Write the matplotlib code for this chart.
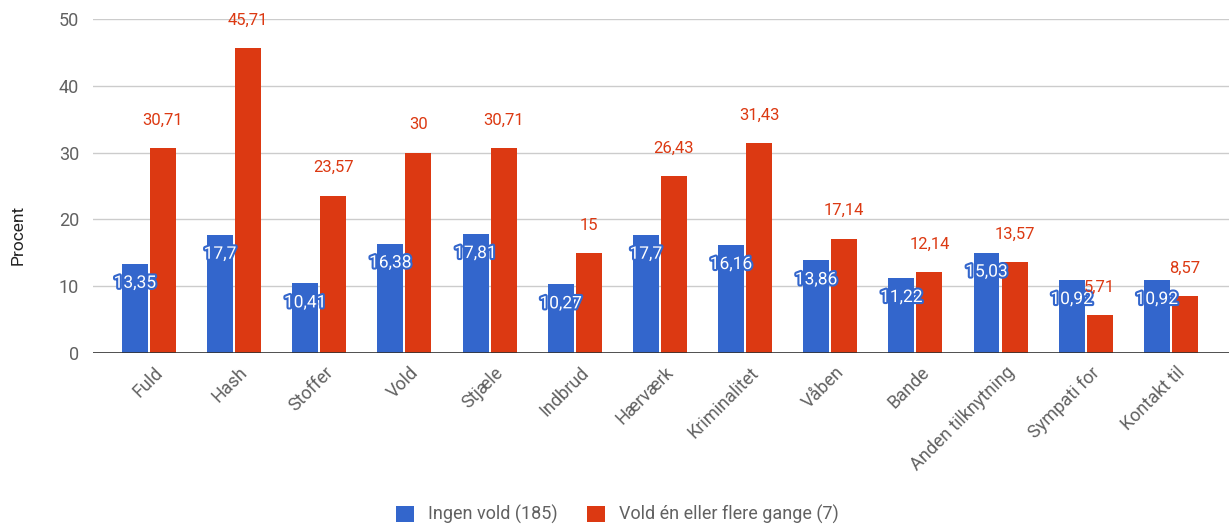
import numpy as np
import matplotlib.pyplot as plt
import matplotlib.transforms as mtransforms
import matplotlib.patheffects as pe

plt.rcParams['font.family'] = ['Roboto', 'DejaVu Sans']

categories = ["Fuld", "Hash", "Stoffer", "Vold", "Stjæle", "Indbrud", "Hærværk",
              "Kriminalitet", "Våben", "Bande", "Anden tilknytning", "Sympati for", "Kontakt til"]
ingen_vold = [13.35, 17.7, 10.41, 16.38, 17.81, 10.27, 17.7, 16.16, 13.86, 11.22, 15.03, 10.92, 10.92]
vold_flere = [30.71, 45.71, 23.57, 30, 30.71, 15, 26.43, 31.43, 17.14, 12.14, 13.57, 5.71, 8.57]
series_names = ["Ingen vold (185)", "Vold én eller flere gange (7)"]

BLUE = '#3366CC'
RED = '#DC3912'
GRAY = '#616161'

def fmt(v):
    return f"{v:g}".replace('.', ',')

fig = plt.figure(figsize=(12.3, 5.28), dpi=100)
ax = fig.add_axes([0.0756, 0.3314, 0.9234, 0.6326])

x = np.arange(len(categories))
w = 0.305
off = 0.165
b1 = ax.bar(x - off, ingen_vold, w, color=BLUE, label=series_names[0], zorder=3)
b2 = ax.bar(x + off, vold_flere, w, color=RED, label=series_names[1], zorder=3)

# blue values sit inside the bar top, white with a blue halo
for xi, v in zip(x, ingen_vold):
    t = ax.annotate(fmt(v), (xi - off, v), xytext=(0, -14), textcoords='offset points',
                    ha='center', va='center', fontsize=12.5, color='white', zorder=5)
    t.set_path_effects([pe.withStroke(linewidth=3, foreground=BLUE)])

for xi, v in zip(x, vold_flere):
    ax.annotate(fmt(v), (xi + off, v), xytext=(0, 20), textcoords='offset points',
                ha='center', va='center', fontsize=12, color=RED, zorder=5)

ax.set_xlim(-0.657, 12.68)
ax.set_ylim(0, 50)
ax.set_yticks(range(0, 51, 10))
ax.grid(axis='y', color='#cccccc', lw=1, zorder=0)
ax.axhline(0, color='#333333', lw=1.2, zorder=4)
for s in ax.spines.values():
    s.set_visible(False)
ax.tick_params(axis='both', length=0, labelsize=13, colors=GRAY)
ax.tick_params(axis='y', pad=10)
ax.set_ylabel('Procent', fontsize=12.5, color='#222222')
ax.yaxis.set_label_coords(-0.059, 0.355)

ax.set_xticks(x)
ax.set_xticklabels(categories, rotation=45, ha='right', va='center',
                   rotation_mode='anchor', fontsize=13, color=GRAY)
shift = mtransforms.ScaledTranslation(0.11, -0.12, fig.dpi_scale_trans)
for lbl in ax.get_xticklabels():
    lbl.set_transform(lbl.get_transform() + shift)

fig.legend(handles=[b1, b2], loc='center', bbox_to_anchor=(0.502, 0.025), ncol=2,
           frameon=False, fontsize=13, labelcolor=GRAY, handlelength=1.0,
           handleheight=1.0, handletextpad=0.8, columnspacing=1.6)

fig.savefig('out.png', dpi=100)
